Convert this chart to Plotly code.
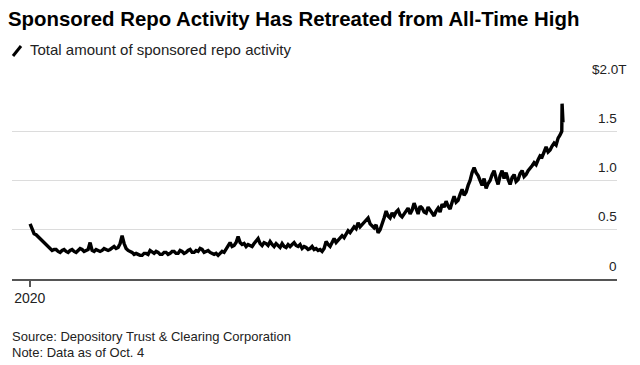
import pandas as pd
import plotly.graph_objects as go

# ---- data (values in $ trillions) ----
main_start = "2020-01-02"
main_end = "2024-09-18"
main_values = [
    0.56, 0.50, 0.46, 0.45, 0.43, 0.40, 0.38, 0.37, 0.35, 0.33,
    0.31, 0.29, 0.30, 0.30, 0.28, 0.27, 0.29, 0.30, 0.28, 0.27,
    0.29, 0.30, 0.28, 0.27, 0.29, 0.31, 0.30, 0.28, 0.29, 0.30,
    0.37, 0.29, 0.28, 0.30, 0.29, 0.28, 0.29, 0.31, 0.30, 0.29,
    0.30, 0.32, 0.33, 0.31, 0.32, 0.36, 0.44, 0.36, 0.31, 0.29,
    0.28, 0.27, 0.25, 0.26, 0.25, 0.24, 0.24, 0.26, 0.26, 0.25,
    0.29, 0.27, 0.26, 0.28, 0.27, 0.25, 0.25, 0.27, 0.27, 0.25,
    0.26, 0.28, 0.28, 0.26, 0.26, 0.29, 0.28, 0.26, 0.27, 0.29,
    0.30, 0.27, 0.27, 0.29, 0.28, 0.31, 0.30, 0.27, 0.28, 0.29,
    0.27, 0.26, 0.25, 0.26, 0.24, 0.26, 0.28, 0.27, 0.30, 0.33,
    0.37, 0.33, 0.34, 0.37, 0.43, 0.37, 0.35, 0.36, 0.33, 0.35,
    0.34, 0.33, 0.36, 0.39, 0.41, 0.36, 0.34, 0.37, 0.36, 0.34,
    0.38, 0.35, 0.33, 0.36, 0.34, 0.32, 0.36, 0.33, 0.32, 0.35,
    0.33, 0.35, 0.37, 0.34, 0.33, 0.35, 0.31, 0.33, 0.32, 0.30,
    0.31, 0.33, 0.30, 0.31, 0.29, 0.30, 0.28, 0.31, 0.38, 0.35,
    0.33, 0.37, 0.41, 0.37, 0.39, 0.42, 0.44, 0.42, 0.46, 0.49,
    0.47, 0.50, 0.53, 0.51, 0.57, 0.53, 0.55, 0.58, 0.59, 0.62,
    0.56, 0.54, 0.52, 0.55, 0.47, 0.50, 0.55, 0.62, 0.69, 0.64,
    0.62, 0.67, 0.64, 0.68, 0.70, 0.65, 0.63, 0.66, 0.68, 0.72,
    0.66, 0.70, 0.77, 0.70, 0.66, 0.74, 0.72, 0.68, 0.67, 0.73,
    0.70, 0.66, 0.64, 0.69, 0.72, 0.68, 0.76, 0.73, 0.79, 0.74,
    0.71, 0.78, 0.84, 0.78, 0.80, 0.86, 0.91, 0.85, 0.88, 0.95,
    1.00, 1.08, 1.13, 1.08, 1.05, 1.00, 0.95, 1.02, 0.92, 0.97,
    1.00, 1.06, 1.10, 1.02, 0.96, 1.05, 1.10, 1.02, 1.08, 1.01,
    0.96, 1.03, 1.06, 0.99, 1.01, 1.07, 1.10, 1.04, 1.06, 1.10,
    1.12, 1.15, 1.18, 1.16, 1.21, 1.25, 1.24, 1.29, 1.34, 1.29,
    1.31, 1.35, 1.38, 1.36, 1.43,
]
tail_dates = ["2024-09-24", "2024-09-30", "2024-10-01", "2024-10-04"]
tail_values = [1.46, 1.50, 1.78, 1.59]

y_tick_vals = [0, 0.5, 1.0, 1.5, 2.0]
y_tick_text = ["0", "0.5", "1.0", "1.5", "$2.0T"]
x_tick_vals = ["2020-01-01"]
x_tick_text = ["2020"]

title_text = "Sponsored Repo Activity Has Retreated from All-Time High"
legend_text = "Total amount of sponsored repo activity"
source_text = "Source: Depository Trust &amp; Clearing Corporation"
note_text = "Note: Data as of Oct. 4"

dates = list(pd.date_range(main_start, main_end, periods=len(main_values))) + list(pd.to_datetime(tail_dates))
values = main_values + tail_values

FONT = "Liberation Sans, Arial, Helvetica, sans-serif"

fig = go.Figure()
fig.add_trace(go.Scatter(
    x=dates, y=values, mode="lines",
    line=dict(color="#000000", width=3.4, shape="linear"),
    cliponaxis=False, hoverinfo="skip", showlegend=False,
))

# plot area (pixels): x 12..617, y 82..279
L, R, T, B = 12, 23, 82, 86
W, H = 640, 365
pw, ph = W - L - R, H - T - B

def px_x(x):
    return (x - L) / pw

def px_y(y):
    return (H - B - y) / ph

annotations = []
for v, t in zip(y_tick_vals, y_tick_text):
    annotations.append(dict(
        x=1, xref="paper", y=v, yref="y", text=t, showarrow=False,
        xanchor="right", yanchor="middle", yshift=13,
        xshift=12 if t.endswith("T") else 2,
        font=dict(family=FONT, size=13.5, color="#222"),
    ))
annotations.append(dict(
    x=px_x(28), xref="paper", y=px_y(50), yref="paper", text=legend_text,
    showarrow=False, xanchor="left", yanchor="middle",
    font=dict(family=FONT, size=15, color="#222"),
))
annotations.append(dict(
    x=px_x(10), xref="paper", y=px_y(336), yref="paper", text=source_text,
    showarrow=False, xanchor="left", yanchor="middle",
    font=dict(family=FONT, size=13, color="#222"),
))
annotations.append(dict(
    x=px_x(10), xref="paper", y=px_y(352), yref="paper", text=note_text,
    showarrow=False, xanchor="left", yanchor="middle",
    font=dict(family=FONT, size=13, color="#222"),
))

shapes = [dict(
    type="line", xref="paper", yref="paper",
    x0=px_x(13), y0=px_y(56), x1=px_x(21), y1=px_y(46),
    line=dict(color="#000", width=3),
)]

fig.update_layout(
    width=W, height=H,
    margin=dict(l=L, r=R, t=T, b=B, pad=0),
    paper_bgcolor="white", plot_bgcolor="white",
    title=dict(text="<b>" + title_text + "</b>", x=8 / W, xanchor="left",
               y=1 - 19 / H, yanchor="middle", xref="container", yref="container",
               font=dict(family=FONT, size=20.4, color="#000")),
    xaxis=dict(
        range=["2019-11-04", "2025-03-29"], type="date",
        tickvals=x_tick_vals, ticktext=x_tick_text,
        ticks="outside", ticklen=6, tickwidth=1.5, tickcolor="#555",
        showgrid=False, zeroline=False, showline=True, linecolor="#555", linewidth=1.5,
        tickfont=dict(family=FONT, size=14, color="#222"),
        fixedrange=True,
    ),
    yaxis=dict(
        range=[0, 2.0], tickvals=y_tick_vals, showticklabels=False,
        showgrid=True, gridcolor="#dcdcdc", gridwidth=1,
        zeroline=False, showline=False, fixedrange=True,
    ),
    annotations=annotations, shapes=shapes, showlegend=False,
)

fig.write_html(
    "out.html",
    config={"displayModeBar": False, "staticPlot": True},
    post_script="document.body.style.margin='0';document.body.style.overflow='hidden';",
)
